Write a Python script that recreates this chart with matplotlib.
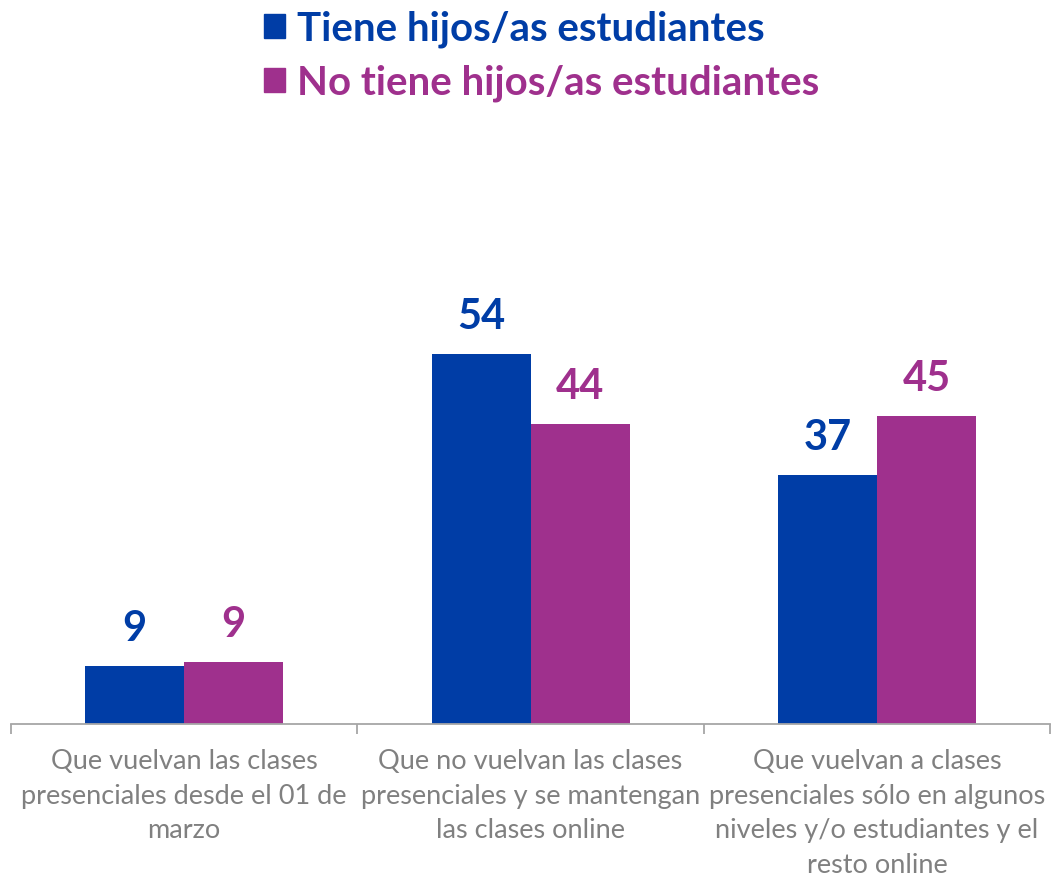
import matplotlib
matplotlib.use("Agg")
import matplotlib.pyplot as plt
from matplotlib.patches import Patch
import numpy as np

categories = [
    "Que vuelvan las clases\npresenciales desde el 01 de\nmarzo",
    "Que no vuelvan las clases\npresenciales y se mantengan\nlas clases online",
    "Que vuelvan a clases\npresenciales sólo en algunos\nniveles y/o estudiantes y el\nresto online",
]
series_names = ["Tiene hijos/as estudiantes", "No tiene hijos/as estudiantes"]
tiene = [8.5, 54, 36.3]
no_tiene = [9.1, 43.8, 44.9]
tiene_labels = ["9", "54", "37"]
no_tiene_labels = ["9", "44", "45"]

BLUE = "#003DA6"
MAG = "#9F308D"
GRAY_TXT = "#808080"
AXIS = "#A6A6A6"

plt.rcParams['font.family'] = ['Lato', 'DejaVu Sans']

fig = plt.figure(figsize=(10.53, 8.81), dpi=100)
ax = fig.add_axes([0.0105, 0.1782, 0.9867, 0.4665])

x = np.arange(len(categories))
w = 0.286
b1 = ax.bar(x - w / 2, tiene, w, color=BLUE, label=series_names[0])
b2 = ax.bar(x + w / 2, no_tiene, w, color=MAG, label=series_names[1])

for rects, labs, col in [(b1, tiene_labels, BLUE), (b2, no_tiene_labels, MAG)]:
    for r, lab in zip(rects, labs):
        ax.annotate(lab, (r.get_x() + r.get_width() / 2, r.get_height()),
                    xytext=(0, 13), textcoords="offset points",
                    ha="center", va="bottom", color=col,
                    fontsize=30, fontweight="bold")

ax.set_xlim(-0.5, 2.5)
ax.set_ylim(0, 60)
for s in ["left", "right", "top"]:
    ax.spines[s].set_visible(False)
ax.spines["bottom"].set_color(AXIS)
ax.spines["bottom"].set_linewidth(1.3)
ax.set_yticks([])

ax.set_xticks([-0.5, 0.5, 1.5, 2.5])
ax.set_xticklabels([])
ax.tick_params(axis="x", which="major", length=7, color=AXIS, width=1.3)
ax.set_xticks(x, minor=True)
ax.set_xticklabels(categories, minor=True, fontsize=19.5, color=GRAY_TXT,
                   linespacing=1.48)
ax.tick_params(axis="x", which="minor", length=0, pad=18)

handles = [Patch(color=BLUE), Patch(color=MAG)]
leg = fig.legend(handles, series_names, loc="upper left",
                 bbox_to_anchor=(0.228, 1.016), frameon=False,
                 prop={"size": 29, "weight": "bold"},
                 handlelength=0.52, handleheight=0.52, handletextpad=0.3,
                 labelspacing=0.42, borderaxespad=0.2)
for t, c in zip(leg.get_texts(), [BLUE, MAG]):
    t.set_color(c)

fig.savefig("out.png", dpi=100)
